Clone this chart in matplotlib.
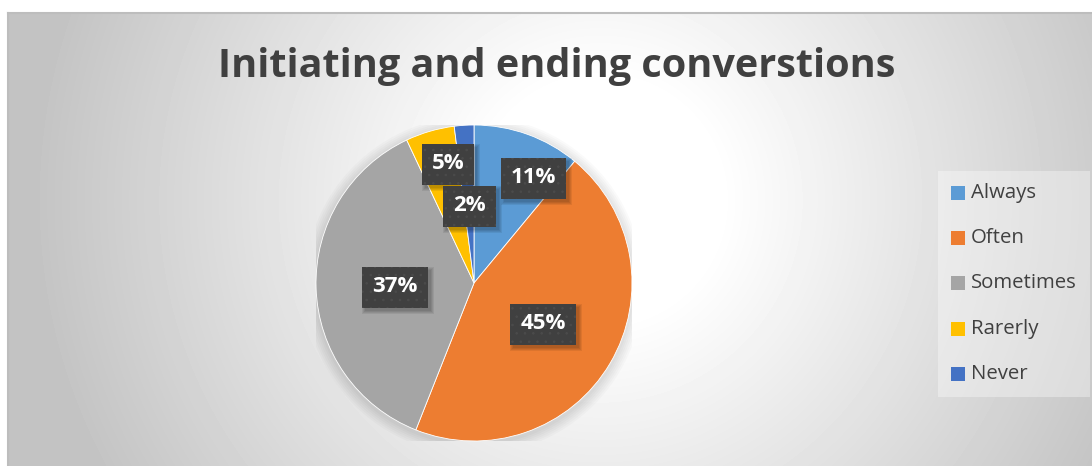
import numpy as np
import matplotlib.pyplot as plt
from matplotlib.patches import Rectangle, Circle
from matplotlib.transforms import IdentityTransform

plt.rcParams['font.family'] = ['Open Sans', 'DejaVu Sans']
plt.rcParams['hatch.linewidth'] = 0.6

title = 'Initiating and ending converstions'
categories = ['Always', 'Often', 'Sometimes', 'Rarerly', 'Never']
shares = [11, 45, 37, 5, 2]
colors = ['#5B9BD5', '#ED7D31', '#A5A5A5', '#FFC000', '#4472C4']
# where each data label sits: (fraction of radius, angle in degrees)
label_pos = [(0.764, 60.5), (0.505, -30.1), (0.50, 182.5), (0.777, 102.2), (0.494, 93.3)]

W, H = 1092, 466
fig = plt.figure(figsize=(W / 100, H / 100), dpi=100)
fig.patch.set_facecolor('white')

# chart area background, worked in pixel coordinates
bg = fig.add_axes([0, 0, 1, 1])
x0, y0 = 8, 13
yy, xx = np.mgrid[y0:H, x0:W]
r = np.hypot(xx - 600.0, yy - 200.0)
shade = 1 - (60 / 255) * np.clip((r - 120) / 450, 0, 1)
bg.imshow(shade, cmap='gray', vmin=0, vmax=1, extent=(x0, W, H, y0),
          interpolation='bilinear', aspect='auto')
bg.plot([x0, x0], [H, y0], color='#bdbdbd', lw=1.5)
bg.plot([x0, W], [y0, y0], color='#bdbdbd', lw=1.5)
bg.set_xlim(0, W)
bg.set_ylim(H, 0)
bg.axis('off')

bg.text(557, 66, title, ha='center', va='center', fontsize=28.5,
        fontweight='bold', color='#404040')

# legend
bg.add_patch(Rectangle((938, 171), 152, 226, fc='white', ec='none', alpha=0.35))
for i, (name, c) in enumerate(zip(categories, colors)):
    ly = 193 + i * 45.2
    bg.add_patch(Rectangle((951, ly - 7), 14, 14, fc=c, ec='none'))
    bg.text(971, ly, name, ha='left', va='center', fontsize=14.7, color='#404040')

# pie
cx, cy, rad = 474, 283, 158
ax = fig.add_axes([(cx - rad) / W, (H - cy - rad) / H, 2 * rad / W, 2 * rad / H])
for k in range(6):
    ax.add_patch(Circle((0.0, -0.015), 1.0 + 0.012 * (k + 1), fc='black',
                        ec='none', alpha=0.018, zorder=0))
ax.pie(shares, colors=colors, startangle=90, counterclock=False,
       wedgeprops=dict(edgecolor='white', linewidth=0.6), radius=1)
ax.set_xlim(-1, 1)
ax.set_ylim(-1, 1)
ax.set_aspect('equal')
ax.axis('off')

labels = []
for v, (fr, ang) in zip(shares, label_pos):
    tx = fr * np.cos(np.radians(ang))
    ty = fr * np.sin(np.radians(ang))
    labels.append(ax.text(tx, ty, f'{v}%', ha='center', va='center',
                          fontsize=16, fontweight='bold', color='white', zorder=6))

# dark label boxes with a soft drop shadow, sized from the rendered text
fig.canvas.draw()
renderer = fig.canvas.get_renderer()
for t in labels:
    bb = t.get_window_extent(renderer)
    mx, my = (bb.x0 + bb.x1) / 2, (bb.y0 + bb.y1) / 2 - 1
    bw, bh = bb.width + 20, 41
    for k in range(4):
        ax.add_patch(Rectangle((mx - bw / 2 + 3 - k, my - bh / 2 - 3 - k),
                               bw + 2 * k, bh + 2 * k, fc='black', ec='none',
                               alpha=0.07, transform=IdentityTransform(), zorder=4))
    ax.add_patch(Rectangle((mx - bw / 2, my - bh / 2), bw, bh, fc='#404040',
                           ec='#4b4b4b', lw=0, hatch='..',
                           transform=IdentityTransform(), zorder=5))

fig.savefig('out.png', dpi=100)
